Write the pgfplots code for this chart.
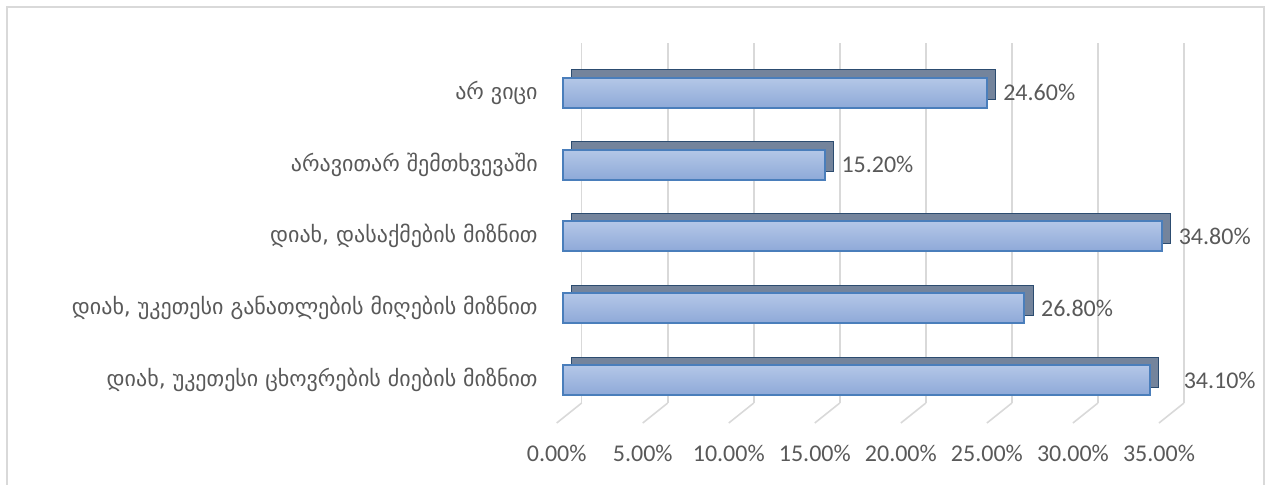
\documentclass[border=0pt]{standalone}
\usepackage{fontspec}
\setmainfont{Carlito}
\newfontfamily\geo{DejaVu Sans}
\usepackage{pgfplots}
\pgfplotsset{compat=1.18}

\definecolor{txt}{HTML}{595959}
\definecolor{grd}{HTML}{D9D9D9}
\definecolor{barline}{HTML}{4A7EBB}
\definecolor{bartop}{HTML}{B4C7E7}
\definecolor{barbot}{HTML}{8EA9D8}
\definecolor{depth}{HTML}{74849C}

\pgfplotsset{
    front/.style={xbar, bar width=15pt, bar shift=0pt, xshift=-9.2pt,
        top color=bartop, bottom color=barbot, draw=barline, line width=1pt,
        nodes near coords={\pgfmathprintnumber[fixed,fixed zerofill,precision=2]{\pgfplotspointmeta}\%},
        every node near coord/.append style={font=\fontsize{12}{14}\selectfont, color=txt}},
}
% one front face per bar so that each gets its own gradient
\newcommand{\frontbar}[3]{%
    \addplot[front, every node near coord/.append style={xshift=#3}] coordinates {(#1,#2)};}

\begin{document}
\begin{tikzpicture}
\begin{axis}[
    scale only axis, width=301.15pt, height=180.15pt,
    xmin=0, xmax=35, ymin=-0.32, ymax=4.696,
    clip=false,
    axis line style={draw=none},
    major tick length=0pt,
    xtick={0,5,...,35},
    xmajorgrids, grid style={grd, line width=0.8pt},
    /pgf/number format/assume math mode=true,
    xticklabel={\pgfmathprintnumber[fixed,fixed zerofill,precision=2]{\tick}\%},
    xticklabel style={font=\fontsize{12}{14}\selectfont, color=txt, xshift=-12.5pt, yshift=-17.5pt},
    ytick={0,...,4},
    yticklabels={
        {დიახ, უკეთესი ცხოვრების ძიების მიზნით},
        {დიახ, უკეთესი განათლების მიღების მიზნით},
        {დიახ, დასაქმების მიზნით},
        {არავითარ შემთხვევაში},
        {არ ვიცი}},
    yticklabel style={font=\geo\fontsize{11}{13}\selectfont, color=txt, anchor=east, xshift=-18.5pt},
]
\coordinate (O) at (rel axis cs:0,0);
% chart frame, placed relative to the plot area (its bottom edge lies below the page)
\draw[grd, line width=0.8pt] ([shift={(-287.35pt,-44pt)}]O)
    rectangle ([shift={(341.15pt,198pt)}]O);
% side and top faces
\addplot[xbar, bar width=15pt, bar shift=4pt, xshift=-4.95pt,
    fill=depth, draw=barline!60!black, line width=0.4pt]
    coordinates {(34.1,0) (26.8,1) (34.8,2) (15.2,3) (24.6,4)};
% front faces
\frontbar{34.1}{0}{13pt}
\frontbar{26.8}{1}{4.5pt}
\frontbar{34.8}{2}{4.5pt}
\frontbar{15.2}{3}{4.5pt}
\frontbar{24.6}{4}{4.5pt}
% floor lines
\pgfplotsinvokeforeach{0,5,...,35}{
    \draw[grd, line width=0.8pt] (axis cs:#1,-0.32) -- ++(-12.5pt,-10pt);
}
\end{axis}
\pgfresetboundingbox
\path ([shift={(-290.85pt,-40.5pt)}]O) rectangle ([shift={(342.15pt,201.5pt)}]O);
\end{tikzpicture}
\end{document}
